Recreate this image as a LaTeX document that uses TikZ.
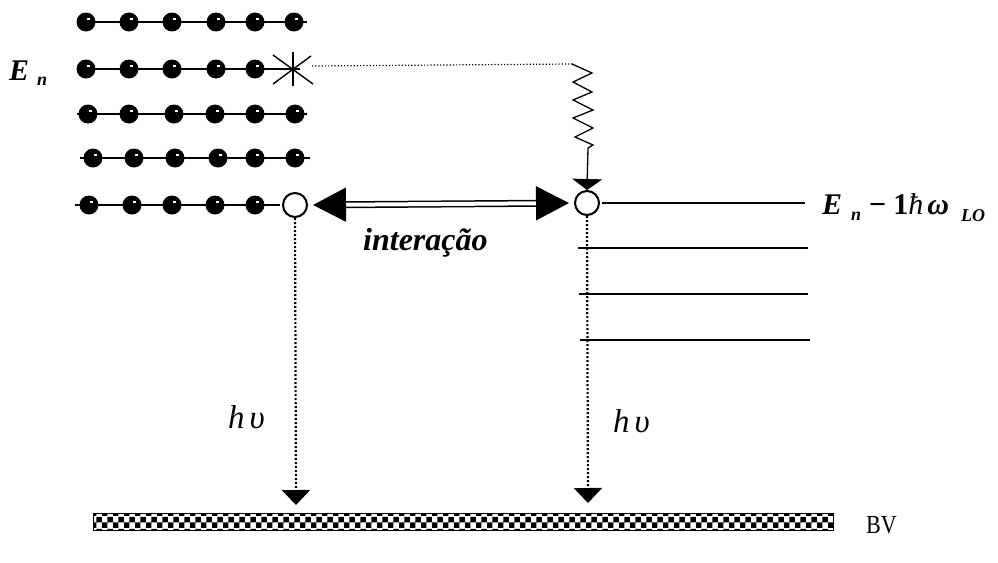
\documentclass[tikz,border=0pt]{standalone}
\usepackage{fontspec}
\setmainfont{Liberation Serif}
\usetikzlibrary{arrows.meta,patterns}
\begin{document}
\begin{tikzpicture}[x=1pt,y=-1pt,
  el/.style={circle, fill=black, inner sep=0pt, minimum size=19pt,
    path picture={\fill[white] ([xshift=0.5pt,yshift=2pt]path picture bounding box.center) rectangle ++(3pt,2pt);}},
  hole/.style={circle, draw, line width=2pt, fill=white, inner sep=0pt, minimum size=24pt},
  rowline/.style={line width=2pt},
  lvl/.style={line width=1.4pt},
  emis/.style={line width=2.2pt, dash pattern=on 2pt off 2pt, -{Triangle[length=15pt,width=28pt]}},
  lab/.style={inner sep=0pt, anchor=base west},
  bfi/.style={font=\fontsize{30}{34}\selectfont\bfseries\itshape},
]
\useasboundingbox (0,0) rectangle (998,562);

% row lines
\coordinate (r1a) at (77,22);  \coordinate (r1b) at (307,22);
\coordinate (r2a) at (77,69);  \coordinate (r2b) at (300,69);
\coordinate (r3a) at (77,114); \coordinate (r3b) at (307,114);
\coordinate (r4a) at (80,158); \coordinate (r4b) at (310,158);
\coordinate (r5a) at (75,205); \coordinate (r5b) at (280,205);
\foreach \r in {1,...,5} {\draw[rowline] (r\r a) -- (r\r b);}

% electrons
\foreach \x [count=\i] in {86,129,172,216,255,294} \node[el] (a\i) at (\x,22) {};
\foreach \x [count=\i] in {86,129,172,216,255} \node[el] (b\i) at (\x,69) {};
\foreach \x [count=\i] in {88,129,174,215,255,295} \node[el] (c\i) at (\x,114) {};
\foreach \x [count=\i] in {93,134,175,218,255,295} \node[el] (d\i) at (\x,158) {};
\foreach \x [count=\i] in {89,132,172,215,255} \node[el] (e\i) at (\x,205) {};

% star (excited electron)
\node[inner sep=0pt, minimum size=36pt] (star) at (293,69) {};
\draw[line width=1.4pt] (star.center) ++(0,-17) -- ++(0,34);
\draw[line width=1.4pt] (star.center) ++(-20,-14) -- ++(40,29);
\draw[line width=1.4pt] (star.center) ++(-20,15) -- ++(38,-28);

% holes
\node[hole] (lh) at (295,205) {};
\node[hole] (rh) at (587,203) {};

% relaxation path
\coordinate (zz0) at (572,64);
\coordinate (zz1) at (588,148);
\draw[line width=1.2pt, dotted] (312,66) -- (zz0);
\draw[line width=1.3pt] (zz0) -- (592,73) -- (573,82) -- (592,92) -- (573,100) -- (593,110)
  -- (573,118) -- (593,128) -- (575,137) -- (593,145) -- (zz1);
\draw[line width=1.3pt, -{Triangle[length=11pt,width=30pt]}] (zz1) -- (rh.north);

% interaction
\draw[line width=1.5pt, double, double distance=4pt,
  {Triangle[length=33pt,width=34pt]}-{Triangle[length=33pt,width=34pt]},
  shorten <=5pt, shorten >=5pt] (lh.east) -- (rh.west);
\node[lab, font=\fontsize{32}{36}\selectfont\bfseries\itshape] (int) at (363,250) {interação};

% levels
\coordinate (l0a) at (602,203); \coordinate (l0b) at (805,203);
\coordinate (l1a) at (578,248); \coordinate (l1b) at (808,248);
\coordinate (l2a) at (579,294); \coordinate (l2b) at (808,294);
\coordinate (l3a) at (580,340); \coordinate (l3b) at (810,340);
\foreach \l in {0,...,3} {\draw[lvl] (l\l a) -- (l\l b);}

% emission
\coordinate (t1) at (296,505);
\coordinate (t2) at (588,503);
\draw[emis] (lh.south) -- (t1);
\draw[emis] (rh.south) -- (t2);

% valence band
\node[draw, line width=1pt, pattern=checkerboard, inner sep=0pt,
  minimum width=740pt, minimum height=17pt] (bvbar) at (463,522) {};
\node[lab, font=\fontsize{26}{30}\selectfont] (bv) at (866,533) {\scalebox{0.85}[1]{BV}};

% labels
\node[lab, bfi] (en) at (9,80) {E\hspace{8pt}\raisebox{-5pt}{\fontsize{18}{18}\selectfont n}};
\node[lab, bfi] (enl) at (822,214) {E\hspace{9pt}\raisebox{-6pt}{\fontsize{18}{18}\selectfont n}\hspace{8pt}{\upshape −}\hspace{7pt}{\upshape 1}{\mdseries ħ}\hspace{4pt}ω\hspace{12pt}\raisebox{-7pt}{\fontsize{18}{18}\selectfont LO}};
\node[lab, font=\fontsize{33}{36}\selectfont\itshape] (hv1) at (228,428) {h\hspace{5pt}υ};
\node[lab, font=\fontsize{33}{36}\selectfont\itshape] (hv2) at (613,432) {h\hspace{5pt}υ};
\end{tikzpicture}
\end{document}
